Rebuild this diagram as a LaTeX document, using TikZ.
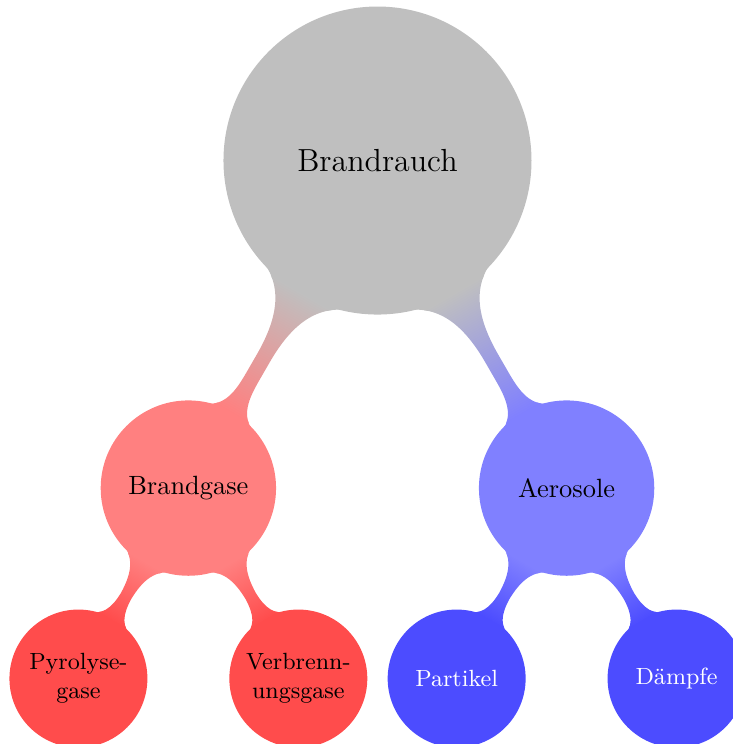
\documentclass[tikz,border=0pt]{standalone}
\usetikzlibrary{mindmap}
\begin{document}
\begin{tikzpicture}[mindmap, concept color=gray!50,
   rootc/.style={concept, minimum size=4.16cm, text width=3.5cm, align=center, font=\fontsize{12.4}{15}\selectfont},
   lvlone/.style={concept, minimum size=2.35cm, text width=2cm, align=center, font=\fontsize{10.25}{12.5}\selectfont},
   lvltwo/.style={concept, minimum size=1.84cm, text width=1.6cm, align=center, font=\fontsize{9.1}{11.2}\selectfont},
   level 1/.append style={level distance=5.16cm, sibling angle=60},
   level 2/.append style={level distance=3cm, sibling angle=60}]
\useasboundingbox (-5.15,-7.96) rectangle (4.85,2.19);
\node[rootc] (brandrauch) {Brandrauch}
  child[concept color=red!50, grow=-120] {node[lvlone] (brandgase) {Brandgase}
    child[concept color=red!70, grow=-120] {node[lvltwo] (pyro) {Pyrolyse-\\gase}}
    child[concept color=red!70, grow=-60] {node[lvltwo] (verb) {Verbrenn-\\ungsgase}}}
  child[concept color=blue!50, grow=-60] {node[lvlone] (aero) {Aerosole}
    child[concept color=blue!70, grow=-120] {node[lvltwo, text=white] (part) {Partikel}}
    child[concept color=blue!70, grow=-60] {node[lvltwo, text=white] (daempfe) {Dämpfe}}};
\end{tikzpicture}
\end{document}
